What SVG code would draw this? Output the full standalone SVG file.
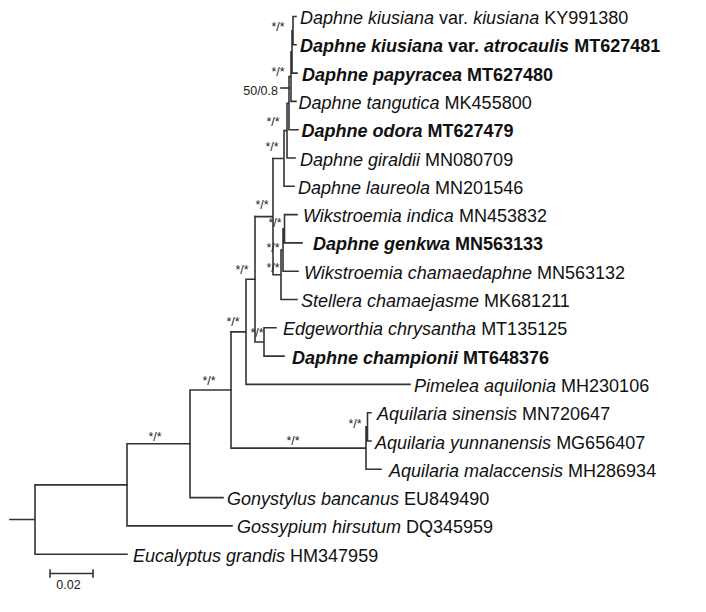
<svg xmlns="http://www.w3.org/2000/svg" width="706" height="612" viewBox="0 0 706 612">
<style>
.br{fill:none;stroke:#333;stroke-width:1.6;stroke-linecap:square}
.tx{font-family:"Liberation Sans",Arial,sans-serif;font-size:18px;fill:#111}
.b{font-weight:bold}
.i{font-style:italic}
.sp{font-family:"Liberation Sans",Arial,sans-serif;font-size:12.5px;fill:#222;text-anchor:middle}
</style>
<rect width="706" height="612" fill="#fff"/>
<g id="connectors" class="br">
<path d="M10 519.5H35M35 484.9V554.2M35 554.2H127M35 484.9H127"/>
<path d="M127 443.8V525.9M127 525.9H232M127 443.8H190"/>
<path d="M190 390V497.6M190 497.6H223M190 390H231"/>
<path d="M231 331.9V448.1M231 448.1H366M366 426.9V469.3M366 469.3H381M366 426.9H367.5M367.5 412.7V441M367.5 412.7H371M367.5 441H371"/>
<path d="M231 331.9H246M246 279.3V384.4M246 384.4H410M246 279.3H255"/>
<path d="M255 216.6V342M255 342H264M264 327.8V356.1M264 327.8H276M264 356.1H284"/>
<path d="M255 216.6H273M273 158.5V274.7M273 274.7H281M281 250V299.5M281 299.5H297M281 250H283M283 228.7V271.2M283 271.2H298M283 228.7H284.5M284.5 214.6V242.9M284.5 214.6H297M284.5 242.9H302"/>
<path d="M273 158.5H284M284 130.6V186.3M284 186.3H294M284 130.6H287M287 103.2V158M287 158H295M287 103.2H289M289 76.6V129.7M289 129.7H298M289 76.6H291M291 51.9V101.4M291 101.4H296M291 51.9H292M292 30.6V73.1M292 73.1H297M292 30.6H293M293 16.5V44.8M293 16.5H296M293 44.8H296"/>
<path d="M281 88H289"/>
</g>
<g id="support">
<text class="sp" x="278" y="31">*/*</text>
<text class="sp" x="278" y="76">*/*</text>
<text class="sp" x="278" y="95" style="text-anchor:end">50/0.8</text>
<text class="sp" x="273" y="126">*/*</text>
<text class="sp" x="272" y="151">*/*</text>
<text class="sp" x="262" y="209">*/*</text>
<text class="sp" x="275" y="227">*/*</text>
<text class="sp" x="273" y="252">*/*</text>
<text class="sp" x="273" y="272">*/*</text>
<text class="sp" x="242" y="274">*/*</text>
<text class="sp" x="233" y="326">*/*</text>
<text class="sp" x="257" y="337">*/*</text>
<text class="sp" x="209" y="385">*/*</text>
<text class="sp" x="155" y="441">*/*</text>
<text class="sp" x="293" y="445">*/*</text>
<text class="sp" x="355" y="428">*/*</text>
</g>
<g id="t1"><text class="tx" x="300" y="24"><tspan class="i">Daphne kiusiana</tspan> var. <tspan class="i">kiusiana</tspan> KY991380</text></g>
<g id="t2"><text class="tx b" x="300" y="52.3"><tspan class="i">Daphne kiusiana</tspan> var. <tspan class="i">atrocaulis</tspan> MT627481</text></g>
<g id="t3"><text class="tx b" x="302" y="80.6"><tspan class="i">Daphne papyracea</tspan> MT627480</text></g>
<g id="t4"><text class="tx" x="298.5" y="108.9"><tspan class="i">Daphne tangutica</tspan> MK455800</text></g>
<g id="t5"><text class="tx b" x="301.5" y="137.2"><tspan class="i">Daphne odora</tspan> MT627479</text></g>
<g id="t6"><text class="tx" x="300" y="165.5"><tspan class="i">Daphne giraldii</tspan> MN080709</text></g>
<g id="t7"><text class="tx" x="298" y="193.8"><tspan class="i">Daphne laureola</tspan> MN201546</text></g>
<g id="t8"><text class="tx" x="303" y="222.1"><tspan class="i">Wikstroemia indica</tspan> MN453832</text></g>
<g id="t9"><text class="tx b" x="313" y="250.4"><tspan class="i">Daphne genkwa</tspan> MN563133</text></g>
<g id="t10"><text class="tx" x="304" y="278.7"><tspan class="i">Wikstroemia chamaedaphne</tspan> MN563132</text></g>
<g id="t11"><text class="tx" x="301" y="307"><tspan class="i">Stellera chamaejasme</tspan> MK681211</text></g>
<g id="t12"><text class="tx" x="283" y="335.3"><tspan class="i">Edgeworthia chrysantha</tspan> MT135125</text></g>
<g id="t13"><text class="tx b" x="292" y="363.6"><tspan class="i">Daphne championii</tspan> MT648376</text></g>
<g id="t14"><text class="tx" x="414" y="391.9"><tspan class="i">Pimelea aquilonia</tspan> MH230106</text></g>
<g id="t15"><text class="tx" x="377" y="420.2"><tspan class="i">Aquilaria sinensis</tspan> MN720647</text></g>
<g id="t16"><text class="tx" x="375" y="448.5"><tspan class="i">Aquilaria yunnanensis</tspan> MG656407</text></g>
<g id="t17"><text class="tx" x="389" y="476.8"><tspan class="i">Aquilaria malaccensis</tspan> MH286934</text></g>
<g id="t18"><text class="tx" x="227" y="505.1"><tspan class="i">Gonystylus bancanus</tspan> EU849490</text></g>
<g id="t19"><text class="tx" x="237" y="533.4"><tspan class="i">Gossypium hirsutum</tspan> DQ345959</text></g>
<g id="t20"><text class="tx" x="133" y="561.7"><tspan class="i">Eucalyptus grandis</tspan> HM347959</text></g>
<g id="scalebar">
<path class="br" d="M50 573.5H93M50 570V577M93 570V577"/>
<text class="sp" x="68.5" y="589">0.02</text>
</g>
</svg>
